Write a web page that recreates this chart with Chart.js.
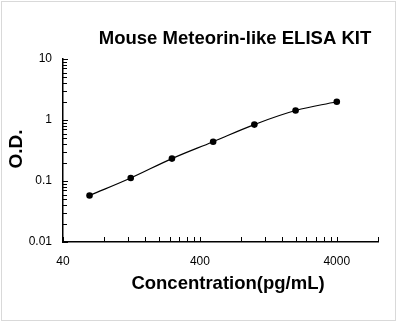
<!DOCTYPE html>
<html>
<head>
<meta charset="utf-8">
<script src="https://cdn.jsdelivr.net/npm/chart.js@4/dist/chart.umd.min.js"></script>
<style>
  html, body { margin: 0; padding: 0; background: #fff; }
  #wrap { width: 398px; height: 323px; position: relative; }
</style>
</head>
<body>
<div id="wrap"><canvas id="myChart" width="398" height="323"></canvas></div>
<script>
const concentrations = [62.5, 125, 250, 500, 1000, 2000, 4000]
const odValues = [0.058, 0.112, 0.233, 0.441, 0.841, 1.43, 1.99]
const xTickValues = [40, 400, 4000]
const yTickValues = [0.01, 0.1, 1, 10]
const chartTitle = 'Mouse Meteorin-like ELISA KIT'
const xTitle = 'Concentration(pg/mL)'
const yTitle = 'O.D.'

const FONT = '"Liberation Sans", Arial, sans-serif'

// frame, titles and inward tick marks
const decorations = {
    id: 'decorations',
    beforeDraw(chart) {
        const ctx = chart.ctx
        ctx.save()
        ctx.fillStyle = '#fff'
        ctx.fillRect(0, 0, chart.width, chart.height)
        ctx.strokeStyle = '#d9d9d9'
        ctx.lineWidth = 1
        ctx.strokeRect(1.5, 1.5, 394, 319)
        ctx.restore()
    },
    afterDraw(chart) {
        const ctx = chart.ctx
        const x = chart.scales.x
        const y = chart.scales.y
        const area = chart.chartArea
        ctx.save()
        ctx.strokeStyle = '#000'
        ctx.lineWidth = 1
        ctx.beginPath()
        // y ticks
        for (let d = 0.01; d < 10; d *= 10) {
            for (let k = 1; k <= 10; k++) {
                const v = d * k
                if (v > 10.0001) break
                const py = Math.round(y.getPixelForValue(v)) + 0.5
                const len = (k === 1 || k === 10) ? 5 : 4
                ctx.moveTo(area.left, py)
                ctx.lineTo(area.left + len, py)
            }
        }
        // x ticks at multiples of 40 per decade
        for (let d = 40; d < 8000; d *= 10) {
            for (let k = 1; k <= 10; k++) {
                const v = d * k
                if (v > 8000) break
                const px = Math.round(x.getPixelForValue(v)) + 0.5
                ctx.moveTo(px, area.bottom)
                ctx.lineTo(px, area.bottom - 5)
            }
        }
        ctx.stroke()

        ctx.fillStyle = '#000'
        ctx.textAlign = 'center'
        ctx.textBaseline = 'middle'
        ctx.font = 'bold 18.5px ' + FONT
        ctx.fillText(chartTitle, 235, 39)
        ctx.font = 'bold 18.5px ' + FONT
        ctx.fillText(xTitle, 228, 284)
        ctx.translate(17, 149)
        ctx.rotate(-Math.PI / 2)
        ctx.font = 'bold 19px ' + FONT
        ctx.fillText(yTitle, 0, 0)
        ctx.restore()
    }
}

const config = {
    type: 'line',
    data: {
        datasets: [{
            data: concentrations.map((c, i) => ({ x: c, y: odValues[i] })),
            borderColor: '#000',
            borderWidth: 1.2,
            backgroundColor: '#000',
            pointRadius: 3.3,
            pointBorderWidth: 0,
            tension: 0.4,
            fill: false
        }]
    },
    options: {
        responsive: false,
        animation: false,
        events: [],
        layout: {
            padding: { top: 59, right: 20, left: 0, bottom: 0 }
        },
        plugins: {
            legend: { display: false },
            tooltip: { enabled: false }
        },
        scales: {
            x: {
                type: 'logarithmic',
                min: 40,
                max: 8000,
                afterBuildTicks: s => { s.ticks = xTickValues.map(v => ({ value: v })) },
                afterFit: s => { s.height = 81 },
                grid: { display: false, drawTicks: false },
                border: { color: '#000', width: 1.5 },
                ticks: {
                    color: '#000',
                    padding: 12,
                    maxRotation: 0,
                    font: { family: FONT, size: 12 },
                    callback: v => String(v)
                }
            },
            y: {
                type: 'logarithmic',
                min: 0.01,
                max: 10,
                afterBuildTicks: s => { s.ticks = yTickValues.map(v => ({ value: v })) },
                afterFit: s => { s.width = 63 },
                grid: { display: false, drawTicks: false },
                border: { color: '#000', width: 1.5 },
                ticks: {
                    color: '#000',
                    padding: 11,
                    font: { family: FONT, size: 12 },
                    callback: v => String(v)
                }
            }
        }
    },
    plugins: [decorations]
}

const myChart = new Chart(document.getElementById('myChart'), config)
</script>
</body>
</html>
